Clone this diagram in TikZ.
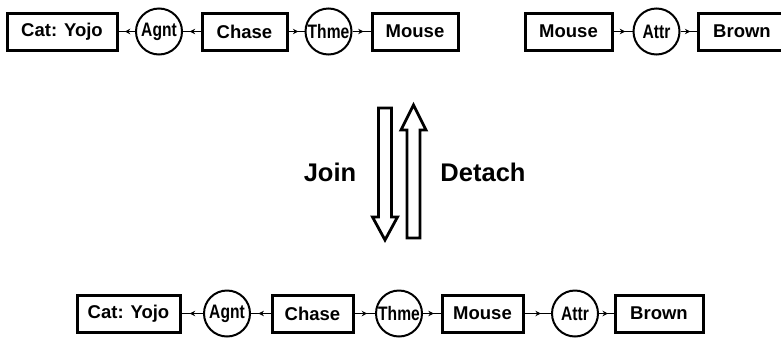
\documentclass[tikz,border=0pt]{standalone}
\usepackage{fontspec}
\setmainfont{Liberation Sans}
\newfontfamily\narrowsans[FakeStretch=0.8]{Liberation Sans}
\usetikzlibrary{arrows.meta,decorations.markings}
\begin{document}
\begin{tikzpicture}[x=1pt,y=-1pt,
  concept/.style={draw, line width=3pt, minimum height=37pt, inner sep=0pt,
    font=\fontsize{18.5}{20}\selectfont\bfseries},
  relation/.style={draw, circle, line width=2pt, minimum size=46pt, inner sep=0pt,
    font=\narrowsans\fontsize{19.5}{20}\selectfont\bfseries},
  link/.style={line width=1.3pt, postaction={decorate},
    decoration={markings, mark=at position 0.62 with {\arrow{Stealth[length=5.5pt,width=5.5pt]}}}},
  opname/.style={font=\fontsize{25.5}{28}\selectfont\bfseries},
  bigarrow/.style={draw, line width=2.8pt, fill=white, line join=miter}
]
\useasboundingbox (0,0) rectangle (781,338);
\clip (0,0) rectangle (781,338);

% upper left graph
\node[concept, minimum width=110pt] (cat1) at (62,31.5) {Cat: Yojo};
\node[relation] (agnt1) at (159,31.5) {Agnt};
\node[concept, minimum width=85pt] (chase1) at (244.5,31.5) {Chase};
\node[relation] (thme1) at (328.5,31.5) {Thme};
\node[concept, minimum width=86pt] (mouse1) at (415,31.5) {Mouse};
\draw[link] (agnt1) -- (cat1);
\draw[link] (chase1) -- (agnt1);
\draw[link] (chase1) -- (thme1);
\draw[link] (thme1) -- (mouse1);

% upper right graph
\node[concept, minimum width=87pt] (mouse2) at (568.5,31.5) {Mouse};
\node[relation] (attr2) at (656.5,31.5) {Attr};
\node[concept, minimum width=88pt] (brown2) at (742,31.5) {Brown};
\draw[link] (mouse2) -- (attr2);
\draw[link] (attr2) -- (brown2);

% join / detach operations
\draw[bigarrow] (378.5,108) -- (391.5,108) -- (391.5,217) -- (397.5,217)
  -- (385,240) -- (372.5,217) -- (378.5,217) -- cycle;
\draw[bigarrow] (407,238) -- (420,238) -- (420,130) -- (426,130)
  -- (413.5,105) -- (401,130) -- (407,130) -- cycle;
\node[opname] (join) at (330,172) {Join};
\node[opname] (detach) at (483,172) {Detach};

% joined graph
\node[concept, minimum width=103pt] (cat3) at (128.5,313.5) {Cat: Yojo};
\node[relation] (agnt3) at (227,313.5) {Agnt};
\node[concept, minimum width=81pt] (chase3) at (312.5,313.5) {Chase};
\node[relation] (thme3) at (399,313.5) {Thme};
\node[concept, minimum width=81pt] (mouse3) at (482.5,313.5) {Mouse};
\node[relation] (attr3) at (575,313.5) {Attr};
\node[concept, minimum width=88pt] (brown3) at (659,313.5) {Brown};
\draw[link] (agnt3) -- (cat3);
\draw[link] (chase3) -- (agnt3);
\draw[link] (chase3) -- (thme3);
\draw[link] (thme3) -- (mouse3);
\draw[link] (mouse3) -- (attr3);
\draw[link] (attr3) -- (brown3);
\end{tikzpicture}
\end{document}
